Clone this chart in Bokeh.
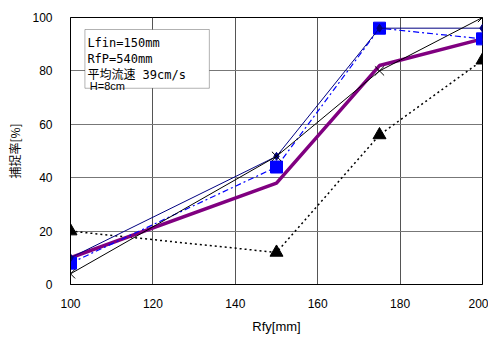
from bokeh.plotting import figure
from bokeh.models import BoxAnnotation, Label, FixedTicker, Range1d
from bokeh.embed import file_html
from bokeh.resources import INLINE

rfy = [100, 150, 175, 200]
s_cross = [4, 48, 80, 100]
s_navy = [10, 48, 96, 96]
s_square = [8, 44, 96, 92]
s_purple = [10, 38, 82, 92]
s_tri = [20, 12, 56, 84]
x_ticks = [100, 120, 140, 160, 180, 200]
y_ticks = [0, 20, 40, 60, 80, 100]

p = figure(width=488, height=338, output_backend="svg", toolbar_location=None,
           x_range=Range1d(100, 200), y_range=Range1d(0, 100),
           min_border_left=70, min_border_right=6, min_border_top=17, min_border_bottom=54)
p.background_fill_color = "white"
p.border_fill_color = "white"
p.outline_line_color = "black"
p.outline_line_width = 1

for ax in (p.xaxis[0], p.yaxis[0]):
    ax.axis_line_color = "black"
    ax.major_tick_line_color = None
    ax.minor_tick_line_color = None
    ax.major_tick_out = 0
    ax.major_tick_in = 0
    ax.major_label_text_font = "Liberation Sans"
    ax.major_label_text_font_size = "12px"
    ax.major_label_text_color = "black"
    ax.axis_label_text_font_style = "normal"
    ax.axis_label_text_color = "black"

p.xaxis.ticker = FixedTicker(ticks=x_ticks)
p.yaxis.ticker = FixedTicker(ticks=y_ticks)
p.xaxis.major_label_standoff = 14
p.yaxis.major_label_standoff = 18
p.xaxis.axis_label = "Rfy[mm]"
p.xaxis.axis_label_text_font = "Liberation Sans"
p.xaxis.axis_label_text_font_size = "13px"
p.xaxis.axis_label_standoff = 8
p.yaxis.axis_label = "捕捉率[%]"
p.yaxis.axis_label_text_font = "Noto Sans CJK JP"
p.yaxis.axis_label_text_font_size = "12px"
p.yaxis.axis_label_standoff = 6

p.xgrid.grid_line_color = "#555555"
p.ygrid.grid_line_color = "#777777"
p.xgrid.grid_line_width = 1
p.ygrid.grid_line_width = 1

# dotted triangles
p.line(rfy, s_tri, line_color="black", line_width=1.5, line_dash="2 3")
p.scatter(rfy, s_tri, marker="triangle", size=13, fill_color="black", line_color="black")
# purple thick
p.line(rfy, s_purple, line_color="#800080", line_width=3.5)
# blue dash-dot squares
p.line(rfy, s_square, line_color="#0000FF", line_width=1.2, line_dash="6 3 2 3")
p.scatter(rfy, s_square, marker="square", size=12, fill_color="#0000FF", line_color="#0000FF")
# navy thin with diamonds
p.line(rfy, s_navy, line_color="#000080", line_width=1)
p.scatter(rfy, s_navy, marker="diamond", size=8, fill_color="#000080", line_color="#000080")
# black with crosses
p.line(rfy, s_cross, line_color="black", line_width=1)
p.scatter(rfy, s_cross, marker="x", size=13, line_color="black", line_width=1)

box = BoxAnnotation(left=103.5, right=133.7, bottom=73.5, top=95.5,
                    fill_color="white", fill_alpha=1, line_color="black", line_width=1)
p.add_layout(box)

mono = "DejaVu Sans Mono, Noto Sans CJK JP"
for txt, yy in [("Lfin=150mm", 90.4), ("RfP=540mm", 84.5), ("平均流速 39cm/s", 78.3)]:
    p.add_layout(Label(x=104.1, y=yy, text=txt, text_font=mono,
                       text_font_size="12px", text_color="black", text_baseline="alphabetic"))
p.add_layout(Label(x=104.7, y=74.5, text="H=8cm", text_font="Liberation Sans",
                   text_font_size="11px", text_color="black", text_baseline="alphabetic"))

open("out.html", "w").write(file_html(p, INLINE))
